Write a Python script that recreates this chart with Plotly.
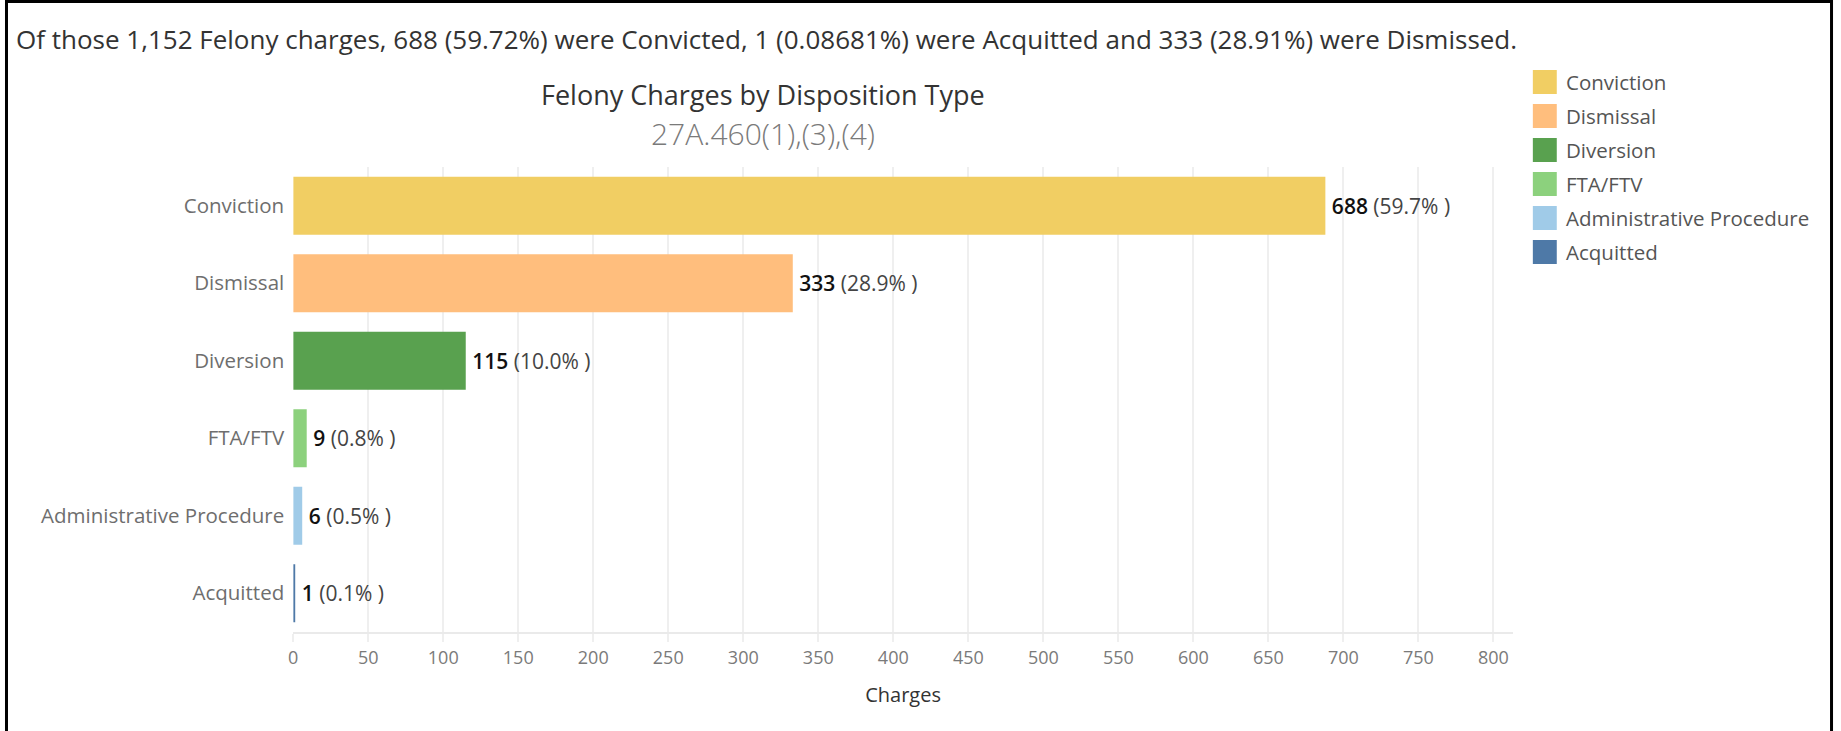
import plotly.graph_objects as go

# ---- data ----
categories = ["Conviction", "Dismissal", "Diversion", "FTA/FTV", "Administrative Procedure", "Acquitted"]
charges = [688, 333, 115, 9, 6, 1]
colors = ["#F1CE63", "#FFBE7D", "#59A14F", "#8CD17D", "#A0CBE8", "#4E79A7"]
x_ticks = [0, 50, 100, 150, 200, 250, 300, 350, 400, 450, 500, 550, 600, 650, 700, 750, 800]
header_text = ("Of those 1,152 Felony charges, 688 (59.72%) were Convicted, 1 (0.08681%) "
               "were Acquitted and 333 (28.91%) were Dismissed.")
title_text = "Felony Charges by Disposition Type"
subtitle_text = "27A.460(1),(3),(4)"
x_title = "Charges"

W, H = 1841, 731
FONT = "Open Sans"

total = sum(charges)
pct = [f"{100 * v / total:.1f}" for v in charges]
labels = [f"\u2009<span style='font-weight:600'>{v}</span><span style='color:#444'> ({p}% )</span>"
          for v, p in zip(charges, pct)]

def px(x):
    return x / W

def py(y):
    return 1 - y / H

fig = go.Figure()
fig.add_trace(go.Bar(
    x=charges, y=categories, orientation="h",
    marker=dict(color=colors, line=dict(width=0)),
    width=0.75,
    text=labels, textposition="outside", cliponaxis=False,
    textfont=dict(family=FONT, size=21, color="#111"),
    hoverinfo="skip", showlegend=False,
))

annotations = [
    dict(text=header_text, x=px(9), y=py(39), xref="paper", yref="paper",
         xanchor="left", yanchor="middle", showarrow=False,
         font=dict(family=FONT, size=26, color="#333")),
    dict(text=title_text, x=px(760), y=py(95), xref="paper", yref="paper",
         xanchor="center", yanchor="middle", showarrow=False,
         font=dict(family=FONT, size=27, color="#333")),
    dict(text=subtitle_text, x=px(760), y=py(133), xref="paper", yref="paper",
         xanchor="center", yanchor="middle", showarrow=False,
         font=dict(family=FONT, size=30, color="#7a7a7a", weight=300)),
]
shapes = []
# legend built from the category/color lists
for i, (cat, col) in enumerate(zip(categories, colors)):
    cy = 82 + 34 * i
    shapes.append(dict(type="rect", xref="paper", yref="paper",
                       x0=px(1532), x1=px(1556), y0=py(cy + 12), y1=py(cy - 12),
                       fillcolor=col, line=dict(width=0)))
    annotations.append(dict(text=cat, x=px(1563), y=py(cy), xref="paper", yref="paper",
                            xanchor="left", yanchor="middle", showarrow=False,
                            font=dict(family=FONT, size=20.5, color="#555")))
# frame
shapes.append(dict(type="rect", xref="paper", yref="paper",
                   x0=px(1.5), x1=px(1831.5), y0=-0.05, y1=py(1.5),
                   line=dict(color="#000", width=3), fillcolor="rgba(0,0,0,0)"))

fig.update_layout(
    width=W, height=H,
    margin=dict(l=0, r=0, t=0, b=0),
    paper_bgcolor="white", plot_bgcolor="white",
    font=dict(family=FONT),
    annotations=annotations, shapes=shapes,
    bargap=0.25,
    xaxis=dict(
        domain=[px(289), px(1512)], range=[0, 813],
        tickvals=x_ticks, ticktext=[str(t) for t in x_ticks],
        showgrid=True, gridcolor="#EFEFEF", gridwidth=2,
        zeroline=False, showline=True, linecolor="#EAEAEA", linewidth=2,
        ticks="outside", ticklen=8, tickcolor="#EFEFEF", tickwidth=2,
        tickfont=dict(family=FONT, size=18, color="#7a7a7a"),
        title=dict(text=x_title, font=dict(family=FONT, size=20, color="#333"), standoff=20),
        fixedrange=True,
    ),
    yaxis=dict(
        domain=[py(632), py(167)],
        categoryorder="array", categoryarray=categories, autorange="reversed",
        showgrid=False, zeroline=False, showline=False, ticks="",
        ticklabelstandoff=8,
        tickfont=dict(family=FONT, size=20.5, color="#6e6e6e"),
        fixedrange=True,
    ),
)

fig.write_html("out.html", config={"displayModeBar": False},
               post_script="document.body.style.margin='0';document.body.style.overflow='hidden';")
